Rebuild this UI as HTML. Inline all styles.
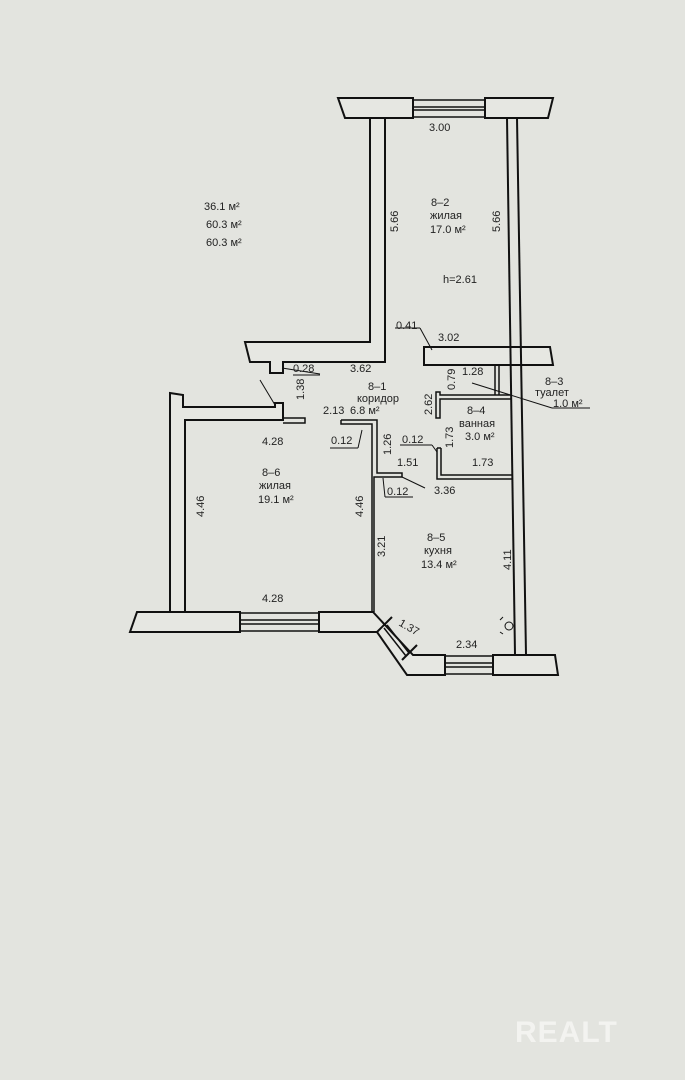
<!DOCTYPE html>
<html><head><meta charset="utf-8"><style>
html,body{margin:0;padding:0;background:#e3e4df;}
svg{display:block}
text{font-family:"Liberation Sans",sans-serif;font-size:11px;fill:#222;}
</style></head><body>
<svg width="685" height="1080" viewBox="0 0 685 1080">
<rect width="685" height="1080" fill="#e3e4df"/>
<g fill="#e6e7e2" stroke="#111" stroke-width="2">
<polygon points="338,98 413,98 413,118 345,118"/>
<polygon points="485,98 553,98 548,118 485,118"/>
<polygon points="370,118 385,118 385,362 283,362 283,373 270,373 270,362 250,362 245,342 370,342"/>
<polygon points="424,347 550,347 553,365 424,365"/>
<polygon points="170,393 183,395 183,407 275,407 275,403 283,403 283,420 185,420 185,612 170,612"/>
<polygon points="137,612 240,612 240,632 130,632"/>
<polygon points="319,612 373,612 413,655 445,655 445,675 407,675 377,632 319,632"/>
<polygon points="493,655 555,655 558,675 493,675"/>
</g>
<g fill="none" stroke="#111" stroke-width="1.5">
<line x1="413" y1="100" x2="485" y2="100"/><line x1="413" y1="107" x2="485" y2="107"/><line x1="413" y1="110" x2="485" y2="110"/><line x1="413" y1="117" x2="485" y2="117"/>
<line x1="240" y1="613" x2="319" y2="613"/><line x1="240" y1="620" x2="319" y2="620"/><line x1="240" y1="624" x2="319" y2="624"/><line x1="240" y1="631" x2="319" y2="631"/>
<line x1="445" y1="656" x2="493" y2="656"/><line x1="445" y1="663" x2="493" y2="663"/><line x1="445" y1="667" x2="493" y2="667"/><line x1="445" y1="674" x2="493" y2="674"/>
<!-- diagonal window -->
<line x1="377" y1="632" x2="392" y2="617" stroke-width="2"/>
<line x1="402" y1="660" x2="417" y2="645" stroke-width="2"/>
<line x1="387" y1="625" x2="409" y2="653"/>
<line x1="384" y1="628" x2="406" y2="656"/>
<line x1="507" y1="118" x2="515" y2="655" stroke-width="2"/>
<line x1="517" y1="118" x2="526" y2="655" stroke-width="2"/>
<line x1="495" y1="365" x2="495" y2="395"/><line x1="499" y1="365" x2="499" y2="395"/>
<polyline points="512,395 440,395 440,392 436,392 436,418 440,418 440,399 512,399"/>
<polyline points="437,448 437,479 513,479"/><polyline points="441,448 441,475 513,475"/><line x1="437" y1="448" x2="441" y2="448"/>
<polyline points="341,420 377,420 377,473 402,473 402,477 374,477 374,612"/>
<polyline points="341,420 341,424 372,424 372,473 372,612"/>
<polyline points="283,418 305,418 305,423 283,423"/>
<line x1="260" y1="380" x2="275" y2="405" stroke-width="1"/>
<line x1="282" y1="368" x2="320" y2="374" stroke-width="1"/>
<line x1="293" y1="375" x2="320" y2="375" stroke-width="1"/>
<line x1="395" y1="328" x2="420" y2="328" stroke-width="1"/><line x1="420" y1="328" x2="432" y2="350" stroke-width="1"/>
<line x1="472" y1="383" x2="552" y2="408" stroke-width="1"/><line x1="552" y1="408" x2="590" y2="408" stroke-width="1"/>
<line x1="330" y1="448" x2="358" y2="448" stroke-width="1"/><line x1="358" y1="448" x2="362" y2="430" stroke-width="1"/>
<line x1="400" y1="445" x2="432" y2="445" stroke-width="1"/><line x1="432" y1="445" x2="437" y2="452" stroke-width="1"/>
<line x1="385" y1="497" x2="413" y2="497" stroke-width="1"/><line x1="385" y1="497" x2="383" y2="478" stroke-width="1"/>
<line x1="402" y1="477" x2="425" y2="488" stroke-width="1"/>
<circle cx="509" cy="626" r="4" stroke-width="1"/><path d="M500,620 L503,617 M500,632 L503,634" stroke-width="1"/>
</g>
<text x="204" y="210">36.1 м²</text>
<text x="206" y="228">60.3 м²</text>
<text x="206" y="246">60.3 м²</text>
<text x="429" y="131">3.00</text>
<text x="431" y="206">8–2</text>
<text x="430" y="219">жилая</text>
<text x="430" y="233">17.0 м²</text>
<text x="443" y="283">h=2.61</text>
<text transform="translate(398,232) rotate(-90)">5.66</text>
<text transform="translate(500,232) rotate(-90)">5.66</text>
<text x="396" y="329">0.41</text>
<text x="438" y="341">3.02</text>
<text x="293" y="372">0.28</text>
<text x="350" y="372">3.62</text>
<text transform="translate(304,400) rotate(-90)">1.38</text>
<text x="368" y="390">8–1</text>
<text x="357" y="402">коридор</text>
<text x="323" y="414">2.13</text>
<text x="350" y="414">6.8   м²</text>
<text x="462" y="375">1.28</text>
<text transform="translate(455,390) rotate(-90)">0.79</text>
<text x="545" y="385">8–3</text>
<text x="535" y="396">туалет</text>
<text x="553" y="407">1.0 м²</text>
<text transform="translate(432,415) rotate(-90)">2.62</text>
<text x="467" y="414">8–4</text>
<text x="459" y="427">ванная</text>
<text x="465" y="440">3.0  м²</text>
<text transform="translate(453,448) rotate(-90)">1.73</text>
<text x="402" y="443">0.12</text>
<text x="472" y="466">1.73</text>
<text x="331" y="444">0.12</text>
<text transform="translate(391,455) rotate(-90)">1.26</text>
<text x="397" y="466">1.51</text>
<text x="387" y="495">0.12</text>
<text x="434" y="494">3.36</text>
<text x="262" y="445">4.28</text>
<text x="262" y="476">8–6</text>
<text x="259" y="489">жилая</text>
<text x="258" y="503">19.1  м²</text>
<text transform="translate(204,517) rotate(-90)">4.46</text>
<text transform="translate(363,517) rotate(-90)">4.46</text>
<text transform="translate(385,557) rotate(-90)">3.21</text>
<text x="427" y="541">8–5</text>
<text x="424" y="554">кухня</text>
<text x="421" y="568">13.4  м²</text>
<text transform="translate(511,570) rotate(-90)">4.11</text>
<text x="262" y="602">4.28</text>
<text transform="translate(398,625) rotate(30)">1.37</text>
<text x="456" y="648">2.34</text>
<text x="515" y="1042" style="font-size:30px;font-weight:bold;fill:#f3f3f0;letter-spacing:1px">REALT</text>
</svg>
</body></html>
